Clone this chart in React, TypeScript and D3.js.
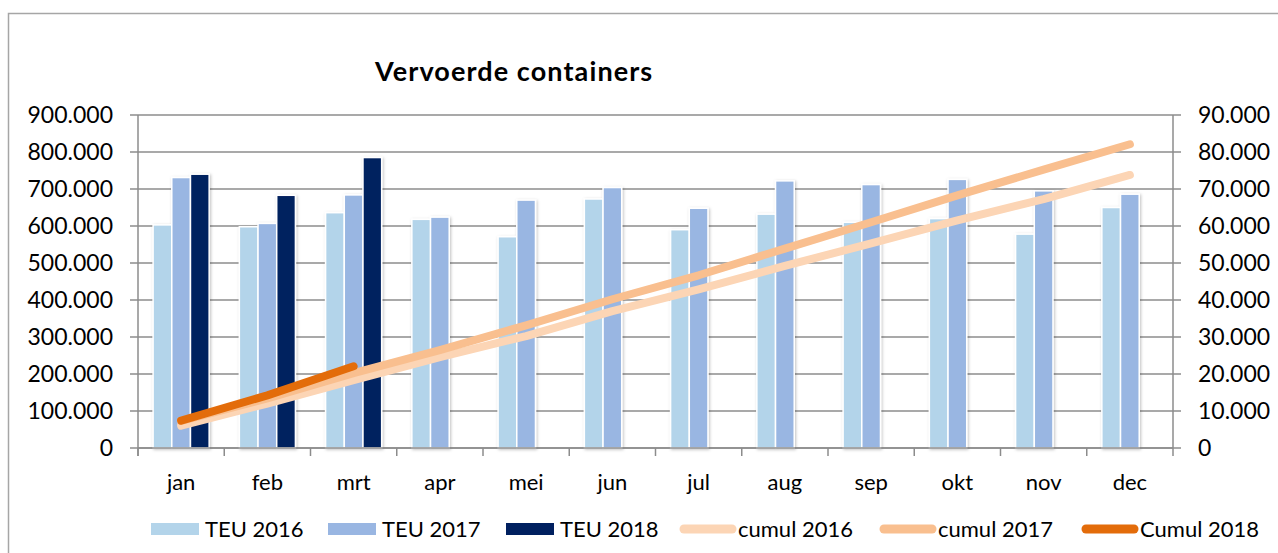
import * as d3 from "d3";

const months = ["jan", "feb", "mrt", "apr", "mei", "jun", "jul", "aug", "sep", "okt", "nov", "dec"];
const teu2016 = [603000, 598000, 636000, 618000, 571000, 673000, 590000, 632000, 610000, 620000, 578000, 650000];
const teu2017 = [731000, 607000, 684000, 624000, 670000, 704000, 648000, 722000, 712000, 726000, 695000, 686000];
const teu2018: (number | null)[] = [740000, 683000, 785000, null, null, null, null, null, null, null, null, null];
const cumul2016 = [6030, 12010, 18370, 24550, 30260, 36990, 42890, 49210, 55310, 61510, 67290, 73790];
const cumul2017 = [7310, 13380, 20220, 26460, 33160, 40200, 46680, 53900, 61020, 68280, 75230, 82090];
const cumul2018 = [7400, 14230, 22080];

const barSeries = [
  { name: "TEU 2016", values: teu2016, color: "#b3d4ea" },
  { name: "TEU 2017", values: teu2017, color: "#99b6e2" },
  { name: "TEU 2018", values: teu2018, color: "#00205f" },
];
const lineSeries = [
  { name: "cumul 2016", values: cumul2016, color: "#fcd5b5" },
  { name: "cumul 2017", values: cumul2017, color: "#f9bf8f" },
  { name: "Cumul 2018", values: cumul2018, color: "#e36c0a" },
];

const W = 1278;
const H = 553;
const m = { left: 138, right: 1173, top: 115, bottom: 448 };
const FONT = "Lato, 'Noto Sans', sans-serif";
const grid = "#8c8c8c";

// legend layout (start x of each entry)
const legendX = [151, 328, 506, 680, 880, 1082];

const nl = d3.formatLocale({ decimal: ",", thousands: ".", grouping: [3], currency: ["", ""] });
const fmt = nl.format(",");

export default function App() {
  const x = d3.scaleBand<string>().domain(months).range([m.left, m.right]).paddingInner(0.35).paddingOuter(0.175);
  const xs = d3.scaleBand<string>().domain(barSeries.map((s) => s.name)).range([0, x.bandwidth()]);
  const yL = d3.scaleLinear().domain([0, 900000]).range([m.bottom, m.top]);
  const yR = d3.scaleLinear().domain([0, 90000]).range([m.bottom, m.top]);
  const step = x.step();
  const cx = (i: number) => (x(months[i]) as number) + x.bandwidth() / 2;

  const line = d3
    .line<number>()
    .x((_, i) => cx(i))
    .y((d) => yR(d));

  const leftTicks = d3.range(0, 900001, 100000);
  const rightTicks = d3.range(0, 90001, 10000);

  return (
    <div style={{ position: "absolute", left: 0, top: 0 }}>
      <svg width={W} height={H} style={{ display: "block", fontFamily: FONT }}>
        <defs>
          <filter id="sh" x="-30%" y="-5%" width="160%" height="110%">
            <feDropShadow dx="1" dy="1" stdDeviation="1.5" floodColor="#000" floodOpacity="0.25" />
          </filter>
        </defs>
        <rect x={0} y={0} width={W} height={H} fill="#fff" />
        {/* frame */}
        <path d={`M8.5,${H} V13.5 H${W}`} fill="none" stroke="#a6a6a6" strokeWidth={1.5} />

        <text x={375} y={81} fontSize={27} fontWeight={700} letterSpacing={1.1} fill="#000">
          Vervoerde containers
        </text>

        {/* gridlines */}
        {leftTicks.map((t) => (
          <line key={t} x1={m.left - 8} x2={m.right + 8} y1={yL(t)} y2={yL(t)} stroke={grid} strokeWidth={1.5} />
        ))}
        {/* left tick labels */}
        {leftTicks.map((t) => (
          <text key={t} x={113} y={yL(t) + 8} textAnchor="end" fontSize={23} fill="#000">
            {fmt(t)}
          </text>
        ))}
        {rightTicks.map((t) => (
          <text key={t} x={1198} y={yR(t) + 8} fontSize={23} fill="#000">
            {fmt(t)}
          </text>
        ))}

        {/* bars */}
        <g filter="url(#sh)">
          {barSeries.map((s) =>
            s.values.map((v, i) =>
              v == null ? null : (
                <rect
                  key={s.name + i}
                  x={(x(months[i]) as number) + (xs(s.name) as number)}
                  y={yL(v)}
                  width={xs.bandwidth()}
                  height={yL(0) - yL(v)}
                  fill={s.color}
                  stroke="#fff"
                  strokeWidth={1.5}
                />
              )
            )
          )}
        </g>

        {/* axes */}
        <line x1={m.left} x2={m.left} y1={m.top} y2={m.bottom + 8} stroke={grid} strokeWidth={1.5} />
        <line x1={m.right} x2={m.right} y1={m.top} y2={m.bottom + 8} stroke={grid} strokeWidth={1.5} />
        <line x1={m.left} x2={m.right} y1={m.bottom} y2={m.bottom} stroke={grid} strokeWidth={1.5} />
        {months.map((mo, i) => (
          <line key={mo} x1={m.left + step * i} x2={m.left + step * i} y1={m.bottom} y2={m.bottom + 8} stroke={grid} strokeWidth={1.5} />
        ))}
        {months.map((mo, i) => (
          <text key={mo} x={cx(i)} y={490} textAnchor="middle" fontSize={22} fill="#000">
            {mo}
          </text>
        ))}

        {/* cumulative lines */}
        {lineSeries.map((s) => (
          <path key={s.name} d={line(s.values) || ""} fill="none" stroke={s.color} strokeWidth={8} strokeLinecap="round" strokeLinejoin="round" />
        ))}

        {/* legend */}
        {barSeries.map((s, i) => (
          <g key={s.name}>
            <rect x={legendX[i]} y={523} width={48} height={12} fill={s.color} />
            <text x={legendX[i] + 54} y={537} fontSize={22} fill="#000">
              {s.name}
            </text>
          </g>
        ))}
        {lineSeries.map((s, i) => (
          <g key={s.name}>
            <line x1={legendX[i + 3] + 4} x2={legendX[i + 3] + 52} y1={529} y2={529} stroke={s.color} strokeWidth={9} strokeLinecap="round" />
            <text x={legendX[i + 3] + 58} y={537} fontSize={22} fill="#000">
              {s.name}
            </text>
          </g>
        ))}
      </svg>
    </div>
  );
}
